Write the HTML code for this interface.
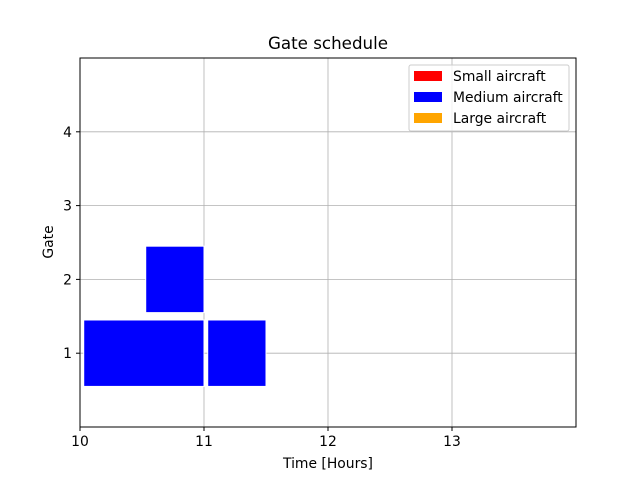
<!DOCTYPE html>
<html><head><meta charset="utf-8"><style>
body{margin:0;background:#fff;}
svg{font-family:"DejaVu Sans","Liberation Sans",sans-serif;}
</style></head><body>
<svg id="chart" width="640" height="480" xmlns="http://www.w3.org/2000/svg">
<rect width="640" height="480" fill="#fff"/>
<g id="grid"></g>
<g id="bars"></g>
<rect x="80" y="58" width="496" height="369" fill="none" stroke="#000" stroke-width="1"/>
<g id="ticks"></g>
<text x="328" y="49" text-anchor="middle" font-size="16.7">Gate schedule</text>
<text x="328" y="468" text-anchor="middle" font-size="13.9">Time [Hours]</text>
<text transform="translate(53,242) rotate(-90)" text-anchor="middle" font-size="13.9">Gate</text>
<g>
<rect x="409" y="65" width="160" height="66" fill="#fff" fill-opacity="0.8" stroke="#ccc" rx="2"/>
<g><rect x="414" y="71" width="28" height="10" fill="#ff0000"/><text x="453" y="81" font-size="13.9">Small aircraft</text></g>
<g><rect x="414" y="92" width="28" height="10" fill="#0000ff"/><text x="453" y="102" font-size="13.9">Medium aircraft</text></g>
<g><rect x="414" y="113" width="28" height="10" fill="#ffa500"/><text x="453" y="123" font-size="13.9">Large aircraft</text></g>
</g>
</svg>
<script>
const gates=[1,1,2];
const starts=[10.03,11.03,10.53];
const ends=[11.0,11.5,11.0];
const colors=["#0000ff","#0000ff","#0000ff"];
const xTicks=[10,11,12,13];
const yTicks=[1,2,3,4];
const X=v=>80+(v-10)*124;
const Y=v=>427-v*73.8;
const NS="http://www.w3.org/2000/svg";
const grid=document.getElementById('grid'),bars=document.getElementById('bars'),ticks=document.getElementById('ticks');
function mk(tag,attrs,parent){const e=document.createElementNS(NS,tag);for(const k in attrs)e.setAttribute(k,attrs[k]);parent.appendChild(e);return e;}
xTicks.forEach(t=>{
 const g=mk('line',{x1:X(t),x2:X(t),y1:58,y2:427,stroke:'#b0b0b0','stroke-width':0.8},grid);
 
 
 mk('line',{x1:X(t),x2:X(t),y1:427,y2:431,stroke:'#000'},ticks);
 const l=mk('text',{x:X(t),y:446,'text-anchor':'middle','font-size':13.9},ticks);l.textContent=t;
 
 
});
yTicks.forEach(t=>{
 const g=mk('line',{x1:80,x2:576,y1:Y(t),y2:Y(t),stroke:'#b0b0b0','stroke-width':0.8},grid);
 
 
 mk('line',{x1:76,x2:80,y1:Y(t),y2:Y(t),stroke:'#000'},ticks);
 const l=mk('text',{x:72,y:Y(t)+5,'text-anchor':'end','font-size':13.9},ticks);l.textContent=t;
 
 
});
gates.forEach((g,i)=>{
 const r=mk('rect',{x:X(starts[i]),y:Y(g+0.45),width:X(ends[i])-X(starts[i]),height:Y(g-0.45)-Y(g+0.45),fill:colors[i],stroke:'#fff','stroke-width':1},bars);
 
 
});
</script>
</body></html>
